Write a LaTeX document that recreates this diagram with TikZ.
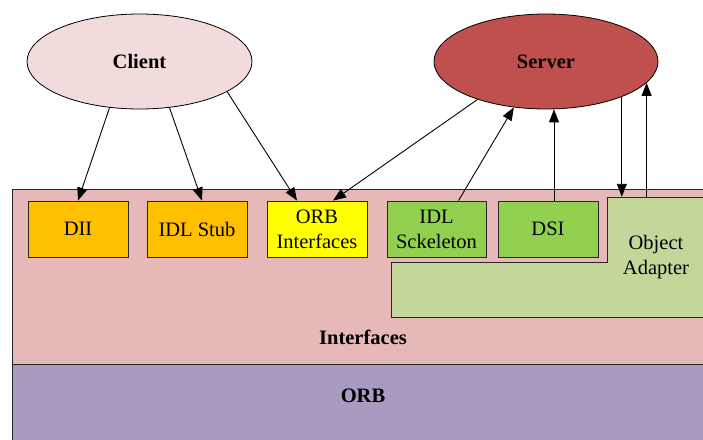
\documentclass[tikz,border=0pt]{standalone}
\usepackage{fontspec}
\setmainfont{Liberation Serif}
\usetikzlibrary{shapes.geometric,arrows.meta,calc}
\definecolor{clientfill}{RGB}{242,220,219}
\definecolor{serverfill}{RGB}{192,80,77}
\definecolor{intfill}{RGB}{230,185,184}
\definecolor{orbfill}{RGB}{169,155,192}
\definecolor{orangefill}{RGB}{255,192,0}
\definecolor{yellowfill}{RGB}{255,255,0}
\definecolor{greenfill}{RGB}{146,208,80}
\definecolor{oafill}{RGB}{196,215,155}
\begin{document}
\begin{tikzpicture}[x=1pt,y=-1pt,
  every node/.style={font=\rmfamily\fontsize{20.5}{25}\selectfont, inner sep=0pt},
  box/.style={draw=black!85, line width=0.8pt, minimum width=100pt, minimum height=56pt, align=center},
  oval/.style={ellipse, draw, line width=0.8pt, minimum width=224pt, minimum height=95pt, font=\rmfamily\bfseries\fontsize{20.5}{25}\selectfont},
  boldlabel/.style={font=\rmfamily\bfseries\fontsize{20.5}{25}\selectfont},
  arr/.style={line width=0.9pt, -{Triangle[length=13pt,width=10pt]}},
  layer/.style={draw=black!85, line width=0.8pt}]
\useasboundingbox (0,0) rectangle (703,439);
\clip (0,0) rectangle (703,439);
\fill[white] (0,0) rectangle (703,439);
% layers
\draw[layer, fill=intfill] (12,189) rectangle (720,364);
\draw[layer, fill=orbfill] (12,364) rectangle (720,460);
\node[boldlabel] (intlabel) at (363,337) {Interfaces};
\node[boldlabel] (orblabel) at (363,396) {ORB};
% object adapter region
\draw[layer, fill=oafill] (391,262) -- (607,262) -- (607,197) -- (720,197) -- (720,317) -- (391,317) -- cycle;
\node[minimum width=98pt, minimum height=120pt, align=center] (oa) at (656,257) {Object\\Adapter};
% boxes
\node[box, fill=orangefill] (dii) at (78,229) {DII};
\node[box, fill=orangefill] (stub) at (197,229) {IDL Stub};
\node[box, fill=yellowfill] (orbi) at (317,229) {ORB\\Interfaces};
\node[box, fill=greenfill, minimum width=99pt] (skel) at (436.5,229) {IDL\\Sckeleton};
\node[box, fill=greenfill] (dsi) at (548,229) {DSI};
% ellipses
\node[oval, fill=clientfill, minimum width=225pt] (client) at (139.5,61.5) {Client};
\node[oval, fill=serverfill] (server) at (546,61.5) {Server};
% connectors
\draw[arr] (client.-123) -- (dii.north);
\draw[arr] (client.-57) -- ($(stub.north)+(5,0)$);
\draw[arr] (client.-19) -- ($(orbi.north)+(-20,0)$);
\draw[arr] (server.-151) -- ($(orbi.north)+(16,0)$);
\draw[arr] ($(skel.north)+(22,0)$) -- (server.-125);
\coordinate (dsix) at ($(dsi.north)+(6,0)$);
\draw[arr] (dsix) -- (dsix |- server.south);
\draw[arr] (server.-25) -- (server.-25 |- oa.north);
\draw[arr] (server.-12 |- oa.north) -- (server.-12);
\end{tikzpicture}
\end{document}
